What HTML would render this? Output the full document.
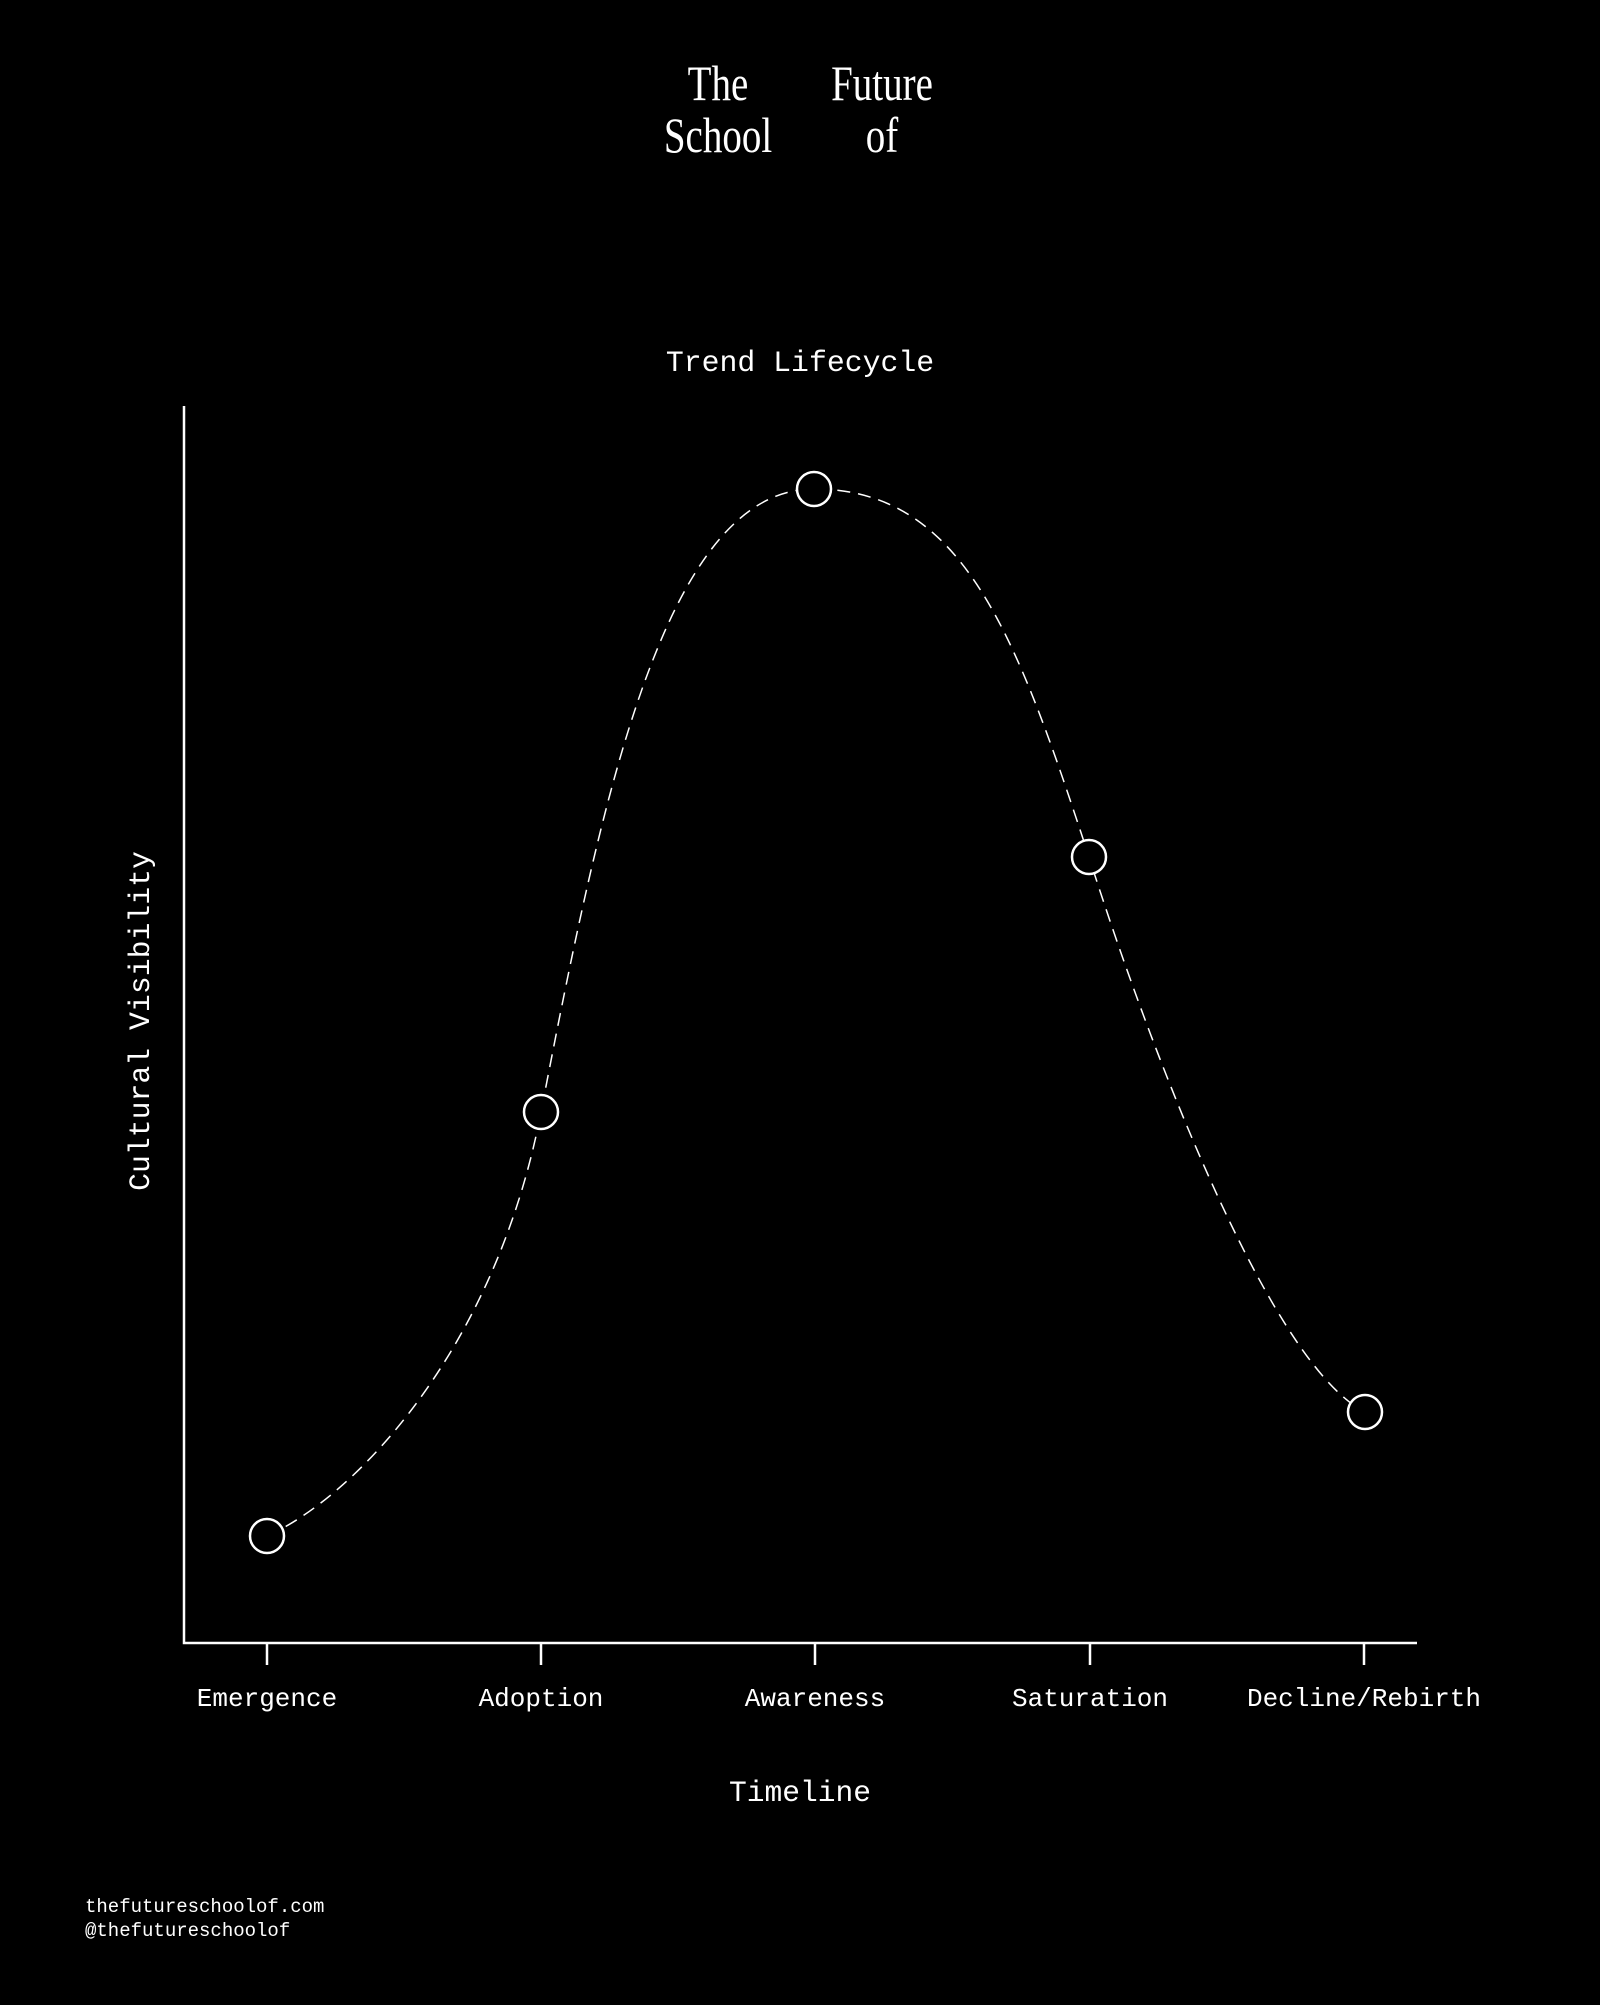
<!DOCTYPE html>
<html><head><meta charset="utf-8"><style>
html,body{margin:0;padding:0;background:#000;}
body{width:1600px;height:2000px;overflow:hidden;}
</style></head><body>
<svg width="1600" height="2000" viewBox="0 0 1600 2000" xmlns="http://www.w3.org/2000/svg">
<rect width="1600" height="2000" fill="#000"/>
<g font-family="Liberation Serif, serif" font-size="50" fill="#fff" text-anchor="middle">
<text x="718" y="100" transform="translate(718 0) scale(0.78 1) translate(-718 0)">The</text>
<text x="882" y="100" transform="translate(882 0) scale(0.78 1) translate(-882 0)">Future</text>
<text x="718" y="152" transform="translate(718 0) scale(0.78 1) translate(-718 0)">School</text>
<text x="882" y="152" transform="translate(882 0) scale(0.78 1) translate(-882 0)">of</text>
</g>
<g font-family="Liberation Mono, monospace" fill="#fff" text-anchor="middle">
<text x="800" y="371" font-size="29.8">Trend Lifecycle</text>
<text x="800" y="1801" font-size="29.6">Timeline</text>
<text transform="translate(149 1021) rotate(-90)" font-size="29.8">Cultural Visibility</text>
<g font-size="26">
<text x="267" y="1706">Emergence</text>
<text x="541" y="1706">Adoption</text>
<text x="815" y="1706">Awareness</text>
<text x="1090" y="1706">Saturation</text>
<text x="1364" y="1706">Decline/Rebirth</text>
</g>
</g>
<g font-family="Liberation Mono, monospace" fill="#fff" font-size="19">
<text x="85" y="1912">thefutureschoolof.com</text>
<text x="85" y="1936">@thefutureschoolof</text>
</g>
<g stroke="#fff" stroke-width="2.5" fill="none">
<path d="M184 406 V1643 H1417"/>
<path d="M267 1643v22M541 1643v22M815 1643v22M1090 1643v22M1364 1643v22"/>
</g>
<path d="M267 1536 C357 1496 496 1347 541 1112 C601 802 664 489 814 489 C964 489 1017 637 1089 857 C1159 1077 1275 1367 1365 1412" fill="none" stroke="#fff" stroke-width="1.5" stroke-dasharray="13 8"/>
<g stroke="#fff" stroke-width="2.5" fill="#000">
<circle cx="267" cy="1536" r="17"/>
<circle cx="541" cy="1112" r="17"/>
<circle cx="814" cy="489" r="17"/>
<circle cx="1089" cy="857" r="17"/>
<circle cx="1365" cy="1412" r="17"/>
</g>
</svg>
</body></html>
